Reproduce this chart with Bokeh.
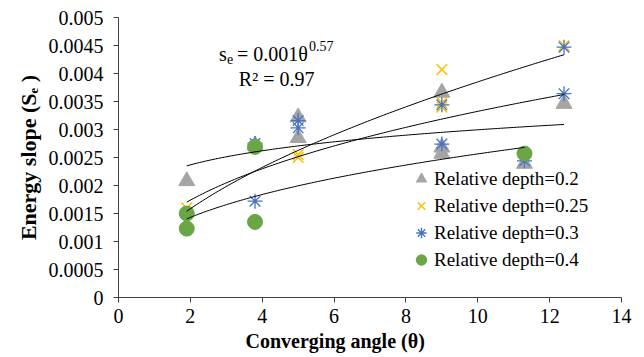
import numpy as np
from bokeh.plotting import figure
from bokeh.models import Range1d, FixedTicker, CustomJSTickFormatter, Label, Legend, LegendItem, Title
from bokeh.embed import file_html
from bokeh.resources import INLINE

# ---- data ----
theta_02 = [1.9, 3.8, 5.0, 5.0, 9.0, 9.0, 9.0, 11.3, 12.4]
se_02 = [0.00208, 0.00272, 0.00322, 0.00285, 0.00366, 0.00268, 0.00257, 0.00239, 0.00346]

theta_025 = [1.9, 5.0, 5.0, 9.0, 9.0, 9.0, 12.4]
se_025 = [0.0016, 0.00255, 0.0025, 0.00407, 0.00348, 0.0034, 0.0045]

theta_03 = [1.9, 3.8, 3.8, 5.0, 5.0, 9.0, 9.0, 11.3, 12.4, 12.4]
se_03 = [0.0015, 0.00275, 0.00172, 0.00316, 0.00303, 0.00344, 0.00274, 0.00244, 0.00447, 0.00364]

theta_04 = [1.9, 1.9, 3.8, 3.8, 11.3]
se_04 = [0.0015, 0.00123, 0.00269, 0.00135, 0.00257]

series_labels = ["Relative depth=0.2", "Relative depth=0.25", "Relative depth=0.3", "Relative depth=0.4"]
x_ticks = [0, 2, 4, 6, 8, 10, 12, 14]
y_ticks = [0, 0.0005, 0.001, 0.0015, 0.002, 0.0025, 0.003, 0.0035, 0.004, 0.0045, 0.005]

FONT = "'Liberation Serif'"

p = figure(width=644, height=357, output_backend="svg", toolbar_location=None,
           x_range=Range1d(0, 14), y_range=Range1d(0, 0.005),
           min_border_left=118, min_border_right=23, min_border_top=17, min_border_bottom=60,
           frame_width=503, frame_height=280)
p.outline_line_color = None
p.background_fill_color = "white"
p.border_fill_color = "white"
p.xgrid.visible = False
p.ygrid.visible = False

for ax in (p.xaxis[0], p.yaxis[0]):
    ax.axis_line_color = "#404040"
    ax.major_tick_line_color = "#404040"
    ax.major_tick_in = 0
    ax.major_tick_out = 5
    ax.minor_tick_line_color = None
    ax.major_label_text_font = FONT
    ax.major_label_text_font_size = "20px"
    ax.major_label_text_color = "black"

p.xaxis.ticker = FixedTicker(ticks=x_ticks)
p.yaxis.ticker = FixedTicker(ticks=y_ticks)
p.yaxis.formatter = CustomJSTickFormatter(code="return tick.toString();")
p.xaxis.formatter = CustomJSTickFormatter(code="return tick.toString();")
p.xaxis.major_label_standoff = 6
p.yaxis.major_label_standoff = 10

# ---- scatter series ----
r02 = p.scatter(theta_02, se_02, marker="triangle", size=16, fill_color="#A5A5A5", line_color="#A5A5A5")
r025 = p.scatter(theta_025, se_025, marker="x", size=15, line_color="#FFC000", line_width=1.5)
r03 = p.scatter(theta_03, se_03, marker="asterisk", size=15, line_color="#4472C4", line_width=1.3)
r04 = p.scatter(theta_04, se_04, marker="circle", size=15, fill_color="#6AA646", line_color="#6AA646")

# ---- power trendlines (least squares in log-log space, as a spreadsheet does) ----
for xs, ys in ((theta_02, se_02), (theta_025, se_025), (theta_03, se_03), (theta_04, se_04)):
    b, lna = np.polyfit(np.log(xs), np.log(ys), 1)
    xx = np.linspace(min(xs), max(xs), 120)
    p.line(xx, np.exp(lna) * xx ** b, line_color="black", line_width=1)

# ---- legend ----
legend = Legend(items=[LegendItem(label=series_labels[0], renderers=[r02]),
                       LegendItem(label=series_labels[1], renderers=[r025]),
                       LegendItem(label=series_labels[2], renderers=[r03]),
                       LegendItem(label=series_labels[3], renderers=[r04])],
                location=(290, 24), orientation="vertical",
                glyph_width=26, glyph_height=27, label_height=27, label_standoff=-3,
                spacing=0, padding=0, margin=0,
                label_text_font=FONT, label_text_font_size="19px", label_text_color="black",
                border_line_color=None, background_fill_alpha=0)
p.add_layout(legend, "center")

def lab(x, y, text, size="20px", style="normal", align="left", baseline="alphabetic"):
    p.add_layout(Label(x=x, y=y, text=text, text_font=FONT, text_font_size=size,
                       text_font_style=style, text_align=align, text_baseline=baseline,
                       text_color="black"))

# ---- equation annotation ----
lab(2.80, 0.004343, "s")
lab(3.02, 0.004253, "e", size="14px")
lab(3.30, 0.004343, "= 0.001θ")
lab(5.30, 0.004485, "0.57", size="14px")
lab(3.35, 0.003902, "R² = 0.97")

# ---- axis titles ----
p.add_layout(Title(text="Converging angle (θ)", align="left", offset=127,
                   text_font=FONT, text_font_size="20px", text_font_style="bold",
                   text_color="black", standoff=4), "below")
p.add_layout(Title(text="Energy slope (Sₑ )", align="center",
                   text_font=FONT, text_font_size="22px", text_font_style="bold",
                   text_color="black", standoff=10), "left")

open("out.html", "w").write(file_html(p, INLINE))
